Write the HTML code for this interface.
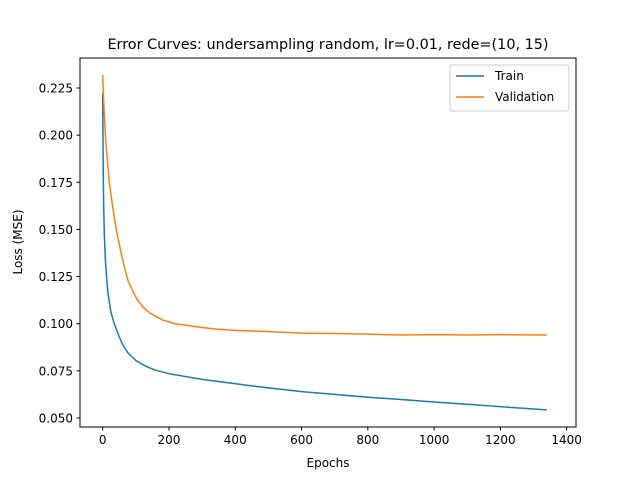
<!DOCTYPE html>
<html><head><meta charset="utf-8"><style>
body{margin:0;background:#fff}
svg text{font-family:"DejaVu Sans","Liberation Sans",sans-serif;fill:#000}
</style></head><body>
<svg id="chart" width="640" height="480" xmlns="http://www.w3.org/2000/svg">
<rect width="640" height="480" fill="#fff"/>
<text x="328" y="49" font-size="14.4" text-anchor="middle">Error Curves: undersampling random, lr=0.01, rede=(10, 15)</text>
<g id="plot"></g>
<rect x="80" y="58" width="496" height="369" fill="none" stroke="#000" stroke-width="1"/>
<text x="328" y="467" font-size="12" text-anchor="middle">Epochs</text>
<text transform="translate(22,242) rotate(-90)" font-size="12" text-anchor="middle">Loss (MSE)</text>
<g>
<rect x="450" y="65" width="119" height="46" rx="3" fill="#fff" fill-opacity="0.8" stroke="#ccc"/>
<line x1="456" y1="76" x2="484" y2="76" stroke="#1f77b4" stroke-width="1.5"/>
<text x="495" y="80" font-size="12">Train</text>
<line x1="456" y1="97" x2="484" y2="97" stroke="#ff7f0e" stroke-width="1.5"/>
<text x="495" y="101" font-size="12">Validation</text>
</g>
</svg>
<script>
const xTicks=[0,200,400,600,800,1000,1200,1400];
const yTicks=[0.050,0.075,0.100,0.125,0.150,0.175,0.200,0.225];
const trainEpochs=[0,1,2,3,5,8,12,16,25,35,50,60,76,100,130,157,200,300,430,500,600,700,800,900,1000,1100,1200,1340];
const trainLoss=[0.222,0.195,0.175,0.162,0.147,0.134,0.124,0.116,0.106,0.1,0.093,0.089,0.0845,0.0805,0.0775,0.0755,0.0735,0.0705,0.0675,0.066,0.064,0.0625,0.061,0.0598,0.0585,0.0573,0.056,0.0543];
const valEpochs=[0,2,5,10,20,30,43,60,76,100,120,143,180,218,260,300,350,400,500,600,700,800,900,1000,1100,1200,1340];
const valLoss=[0.232,0.222,0.21,0.195,0.175,0.162,0.148,0.134,0.123,0.114,0.109,0.1056,0.102,0.1,0.099,0.098,0.097,0.0965,0.0958,0.095,0.0948,0.0945,0.094,0.0942,0.094,0.0942,0.094];
const X=v=>102.7+v*0.3314;
const Y=v=>418-(v-0.05)*1885.7;
const g=document.getElementById('plot');
const NS='http://www.w3.org/2000/svg';
function mk(t,a){const e=document.createElementNS(NS,t);for(const k in a)e.setAttribute(k,a[k]);g.appendChild(e);return e;}
xTicks.forEach(t=>{
 const l=mk('line',{x1:X(t),x2:X(t),y1:427,y2:430.5,stroke:'#000'});
 
 
 const s=mk('text',{x:X(t),y:444,'font-size':12,'text-anchor':'middle'});s.textContent=t;
 
 
});
yTicks.forEach(t=>{
 const l=mk('line',{x1:76.5,x2:80,y1:Y(t),y2:Y(t),stroke:'#000'});
 
 
 const s=mk('text',{x:73,y:Y(t)+4.5,'font-size':12,'text-anchor':'end'});s.textContent=t.toFixed(3);
 
 
});
function line(xs,ys,c,name){
 const p=mk('polyline',{points:xs.map((x,i)=>X(x)+','+Y(ys[i])).join(' '),fill:'none',stroke:c,'stroke-width':1.5});
 
 
}
line(trainEpochs,trainLoss,'#1f77b4','train-line');
line(valEpochs,valLoss,'#ff7f0e','validation-line');
</script>
</body></html>
